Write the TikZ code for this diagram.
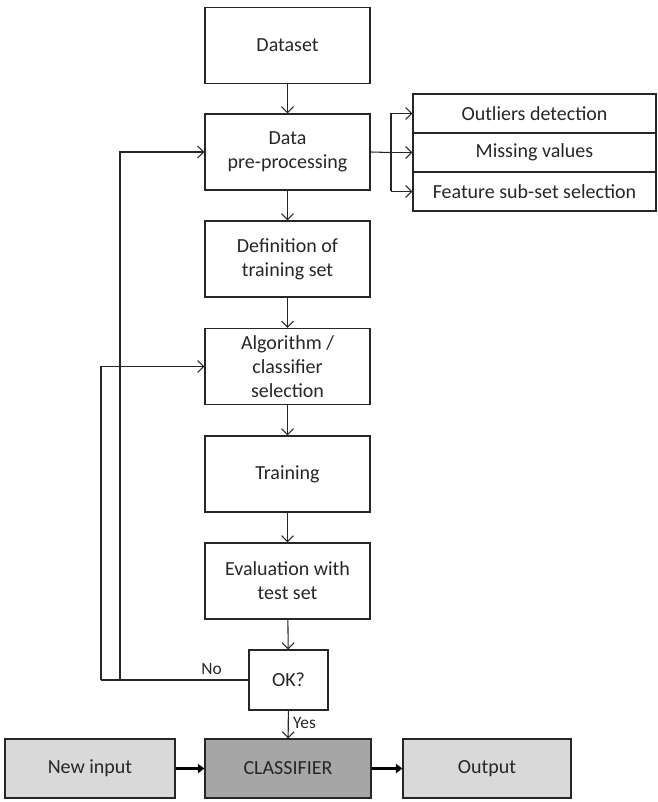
\documentclass[tikz,border=0pt]{standalone}
\usepackage{fontspec}
\setmainfont{Carlito}
\usetikzlibrary{arrows.meta}
\begin{document}
\begin{tikzpicture}[x=0.75pt,y=-0.75pt,
  every node/.style={font=\fontsize{15}{18}\selectfont, text=black!85},
  box/.style={draw=black!85, line width=0.85pt, minimum width=123.75pt, minimum height=57pt, align=center, inner sep=2pt},
  okbox/.style={box, minimum width=59.25pt, minimum height=45pt},
  side/.style={draw=black!85, line width=0.85pt, minimum width=182.25pt, minimum height=29.25pt, inner sep=1pt},
  bot/.style={draw=black!85, line width=0.85pt, minimum height=44.25pt, inner sep=2pt},
  conn/.style={draw=black!85, line width=0.8pt},
  arr/.style={conn, -{Straight Barb[length=4.5pt,width=9pt,line width=0.8pt]}},
  thickarr/.style={draw=black, line width=2.6pt, -{Triangle[length=5pt,width=7pt]}},
  lbl/.style={font=\fontsize{13}{15}\selectfont}
]
\useasboundingbox (0,0) rectangle (657,802);

\node[box] (ds)  at (287.5,45.5) {Dataset};
\node[box] (pre) at (287.5,152) {Data\\pre-processing};
\node[box] (def) at (287.5,259) {Definition of\\training set};
\node[box] (alg) at (287.5,366.5) {Algorithm /\\classifier\\selection};
\node[box] (trn) at (287.5,474) {Training};
\node[box] (evl) at (287.5,581) {Evaluation with\\test set};
\node[okbox] (ok) at (288.5,680) {OK?};

\node[side] (out) at (534.5,113.5) {Outliers detection};
\node[side] (mis) at (534.5,152.5) {Missing values};
\node[side] (fea) at (534.5,191.5) {Feature sub-set selection};

\node[bot, fill=black!15, minimum width=127.5pt] (new) at (90,768.5) {New input};
\node[bot, fill=black!35, minimum width=124.5pt] (cls) at (288,768.5) {CLASSIFIER};
\node[bot, fill=black!15, minimum width=126pt] (res) at (487,768.5) {Output};

\draw[arr] (ds) -- (pre);
\draw[arr] (pre) -- (def);
\draw[arr] (def) -- (alg);
\draw[arr] (alg) -- (trn);
\draw[arr] (trn) -- (evl);
\draw[arr] (evl) -- (ok);
\draw[arr] (ok) -- node[lbl, right, pos=0.45] {Yes} (cls);

\coordinate (br) at (391,152.5);
\coordinate (bt) at (391,113.5);
\coordinate (bb) at (391,191.5);
\draw[conn] (pre.east) -- (br);
\draw[conn] (bt) -- (bb);
\draw[arr] (bt) -- (out.west);
\draw[arr] (br) -- (mis.west);
\draw[arr] (bb) -- (fea.west);

\coordinate (fi) at (120,680);
\coordinate (fo) at (101,680);
\draw[conn] (ok.west) -- node[lbl, above, pos=0.25] {No} (fo);
\draw[arr] (fi) |- (pre.west);
\draw[arr] (fo) |- (alg.west);

\draw[thickarr] (new) -- (cls);
\draw[thickarr] (cls) -- (res);
\end{tikzpicture}
\end{document}
